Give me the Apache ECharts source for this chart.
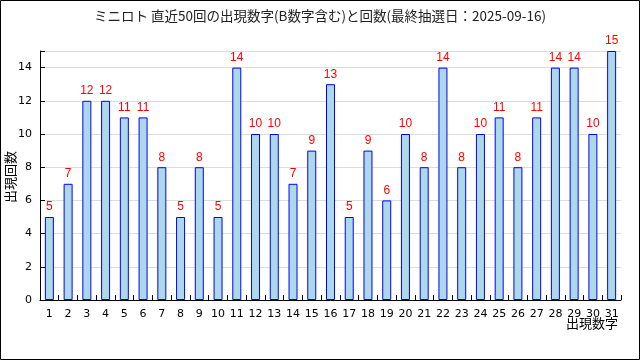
<!DOCTYPE html>
<html><head><meta charset="utf-8">
<script src="https://cdn.jsdelivr.net/npm/echarts@6/dist/echarts.min.js"></script>
<style>html,body{margin:0;padding:0;background:#fff}#c{width:640px;height:360px}</style>
</head><body><div id="c"></div>
<script>
const categories = ['1','2','3','4','5','6','7','8','9','10','11','12','13','14','15','16','17','18','19','20','21','22','23','24','25','26','27','28','29','30','31'];
const counts = [5,7,12,12,11,11,8,5,8,5,14,10,10,7,9,13,5,9,6,10,8,14,8,10,11,8,11,14,14,10,15];
const yTicks = [0,2,4,6,8,10,12,14];
const titleText = 'ミニロト 直近50回の出現数字(B数字含む)と回数(最終抽選日：2025-09-16)';
const xName = '出現数字';
const yName = '出現回数';

const chart = echarts.init(document.getElementById('c'), null, {renderer:'canvas'});
const font = '"Noto Sans CJK JP", "DejaVu Sans", sans-serif';
chart.setOption({
  animation:false,
  backgroundColor:'#fff',
  title:{text:titleText,left:'center',top:4,textStyle:{fontSize:13.5,fontWeight:'normal',color:'#222',fontFamily:font}},
  grid:{left:40,right:19,top:51,bottom:60,containLabel:false,outerBoundsMode:'none'},
  xAxis:{type:'category',data:categories,boundaryGap:true,
    axisLine:{lineStyle:{color:'#000',width:1}},
    axisTick:{show:true,inside:true,length:5,interval:0,lineStyle:{color:'#000'}},
    axisLabel:{color:'#000',fontSize:11,fontFamily:'DejaVu Sans',margin:9,interval:0}
  },
  yAxis:{type:'value',min:0,max:15,interval:2,
    axisLine:{show:true,lineStyle:{color:'#000'}},
    axisTick:{show:true,inside:true,length:5,lineStyle:{color:'#000'}},
    axisLabel:{color:'#000',fontSize:11,fontFamily:'DejaVu Sans',margin:8,
      formatter:v=>yTicks.includes(v)?String(v):''},
    splitLine:{show:true,lineStyle:{color:'#dcdcdc'}}
  },
  series:[{type:'bar',data:counts,barWidth:9,
    itemStyle:{color:'#add8e6',borderColor:'#0000ff',borderWidth:1},
    label:{show:true,position:'top',color:'#ff0000',fontSize:12,fontFamily:'Liberation Sans',distance:4}
  }],
  graphic:[
    {type:'rect',shape:{x:0.5,y:0.5,width:639,height:359},style:{fill:null,stroke:'#000',lineWidth:1},silent:true},
    {type:'text',right:22,top:317,style:{text:xName,fill:'#000',font:'13px "Noto Sans CJK JP"'}},
    {type:'text',x:10,y:177,rotation:Math.PI/2,style:{text:yName,fill:'#000',font:'13px "Noto Sans CJK JP"',textAlign:'center',textVerticalAlign:'middle'}}
  ]
});
</script></body></html>
